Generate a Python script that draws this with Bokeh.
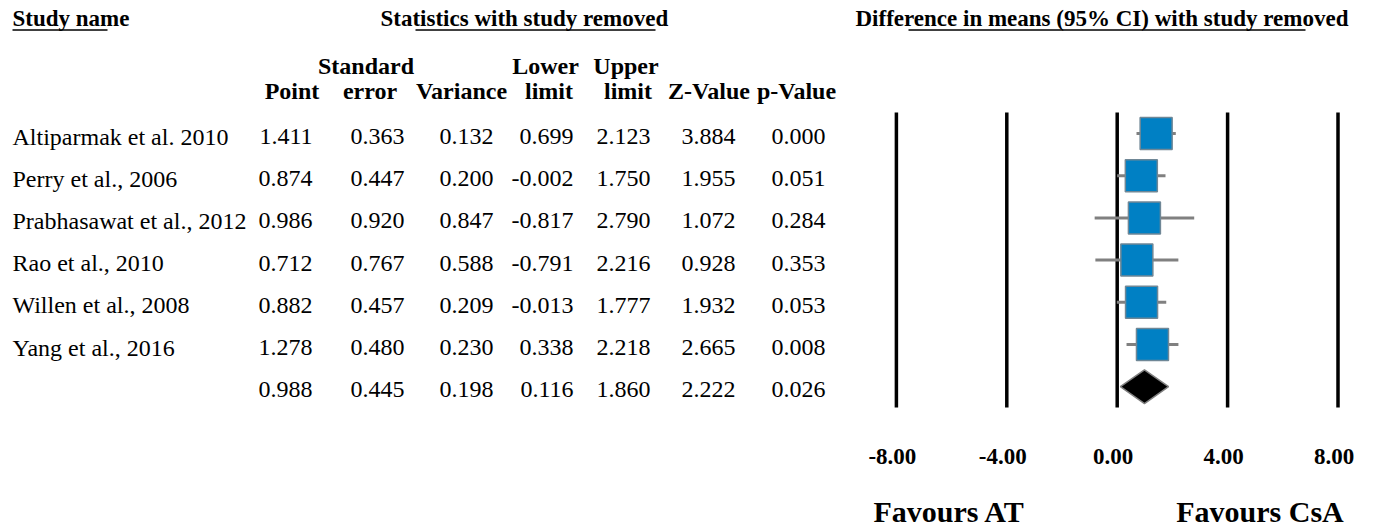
from bokeh.plotting import figure
from bokeh.models import Range1d
from bokeh.embed import file_html
from bokeh.resources import INLINE
from bokeh.core.properties import value

# ---- data -------------------------------------------------------------
studies = [
    "Altiparmak et al. 2010",
    "Perry et al., 2006",
    "Prabhasawat et al., 2012",
    "Rao et al., 2010",
    "Willen et al., 2008",
    "Yang et al., 2016",
]
point = [1.411, 0.874, 0.986, 0.712, 0.882, 1.278]
std_err = [0.363, 0.447, 0.920, 0.767, 0.457, 0.480]
variance = [0.132, 0.200, 0.847, 0.588, 0.209, 0.230]
lower = [0.699, -0.002, -0.817, -0.791, -0.013, 0.338]
upper = [2.123, 1.750, 2.790, 2.216, 1.777, 2.218]
z_value = [3.884, 1.955, 1.072, 0.928, 1.932, 2.665]
p_value = [0.000, 0.051, 0.284, 0.353, 0.053, 0.008]

# pooled estimate (last row)
pooled_point = 0.988
pooled_se = 0.445
pooled_var = 0.198
pooled_lower = 0.116
pooled_upper = 1.860
pooled_z = 2.222
pooled_p = 0.026

axis_ticks = [-8, -4, 0, 4, 8]
tick_labels = ["-8.00", "-4.00", "0.00", "4.00", "8.00"]
favours_labels = ["Favours AT", "Favours CsA"]

# ---- layout -----------------------------------------------------------
W, H = 1383, 529
ZERO_PX = 1116.7      # screen x of a zero difference
UNIT_PX = 27.6        # screen px per unit of difference
ROW0_PX = 133.0       # screen y of the first study row
ROW_PX = 42.2         # screen px between rows
TEXT_LIFT = 9.0       # baseline correction for the SVG text renderer

FONT = value("Liberation Serif")


def px_x(px):
    return (px - ZERO_PX) / UNIT_PX


def px_y(py):
    return (py - ROW0_PX) / ROW_PX


def text_y(py):
    return px_y(py - TEXT_LIFT)


p = figure(
    width=W, height=H,
    x_range=Range1d(px_x(0), px_x(W)),
    y_range=Range1d(px_y(H), px_y(0)),
    x_axis_type=None, y_axis_type=None,
    output_backend="svg", toolbar_location=None,
    min_border=0, outline_line_color=None,
)
p.grid.visible = False
p.background_fill_color = "white"
p.border_fill_color = "white"

n = len(studies)
rows = list(range(n))
all_rows = rows + [n]
BASE = (12.0 - TEXT_LIFT) / ROW_PX   # text baseline below the row centre

# ---- headers ----------------------------------------------------------
p.text(x=[px_x(12), px_x(380), px_x(855)], y=[text_y(27)] * 3,
       text=["Study name", "Statistics with study removed",
             "Difference in means (95% CI) with study removed"],
       text_font=FONT, text_font_size="23px", text_font_style="bold",
       text_align="left", text_baseline="alphabetic", text_color="black")
ul_y = px_y(29.5)
p.segment(x0=[px_x(12), px_x(415), px_x(908)], y0=[ul_y] * 3,
          x1=[px_x(107), px_x(655), px_x(1305)], y1=[ul_y] * 3,
          line_color="black", line_width=1.5)

head1 = ["Standard", "Lower", "Upper"]
head1_x = [365.5, 545, 625.5]
p.text(x=[px_x(v) for v in head1_x], y=[text_y(74)] * 3, text=head1,
       text_font=FONT, text_font_size="24px", text_font_style="bold",
       text_align="center", text_baseline="alphabetic", text_color="black")
head2 = ["Point", "error", "Variance", "limit", "limit", "Z-Value", "p-Value"]
head2_x = [291.5, 369.5, 461, 548.5, 627.5, 708.5, 796]
p.text(x=[px_x(v) for v in head2_x], y=[text_y(99)] * 7, text=head2,
       text_font=FONT, text_font_size="24px", text_font_style="bold",
       text_align="center", text_baseline="alphabetic", text_color="black")

# ---- table body -------------------------------------------------------
p.text(x=[px_x(12)] * n, y=[r + BASE for r in rows], text=studies,
       text_font=FONT, text_font_size="24px", text_align="left",
       text_baseline="alphabetic", text_color="black")

columns = [
    (point + [pooled_point], 312),
    (std_err + [pooled_se], 404),
    (variance + [pooled_var], 493),
    (lower + [pooled_lower], 573),
    (upper + [pooled_upper], 650),
    (z_value + [pooled_z], 735),
    (p_value + [pooled_p], 825),
]
for vals, right in columns:
    p.text(x=[px_x(right)] * len(vals), y=[r + BASE for r in all_rows],
           text=[f"{v:.3f}" for v in vals],
           text_font=FONT, text_font_size="24px", text_align="right",
           text_baseline="alphabetic", text_color="black")

# ---- forest plot ------------------------------------------------------
p.segment(x0=axis_ticks, y0=[-0.5] * len(axis_ticks),
          x1=axis_ticks, y1=[6.49] * len(axis_ticks),
          line_color="black", line_width=3.5)

p.segment(x0=lower, y0=rows, x1=upper, y1=rows,
          line_color="#808080", line_width=3)
p.rect(x=point, y=rows, width=32, height=32,
       width_units="screen", height_units="screen",
       fill_color="#0080C4", line_color="#6F8796", line_width=1.5)

d = 0.4
p.patch(x=[pooled_lower, pooled_point, pooled_upper, pooled_point],
        y=[n, n - d, n, n + d],
        fill_color="black", line_color="#808080", line_width=1.5)

p.text(x=axis_ticks, y=[text_y(465)] * len(axis_ticks), text=tick_labels,
       x_offset=-4, text_font=FONT, text_font_size="23px",
       text_font_style="bold", text_align="center",
       text_baseline="alphabetic", text_color="black")

p.text(x=[px_x(949), px_x(1259.5)], y=[text_y(520)] * 2, text=favours_labels,
       text_font=FONT, text_font_size="30px", text_font_style="bold",
       text_align="center", text_baseline="alphabetic", text_color="black")

open("out.html", "w").write(file_html(p, INLINE))
